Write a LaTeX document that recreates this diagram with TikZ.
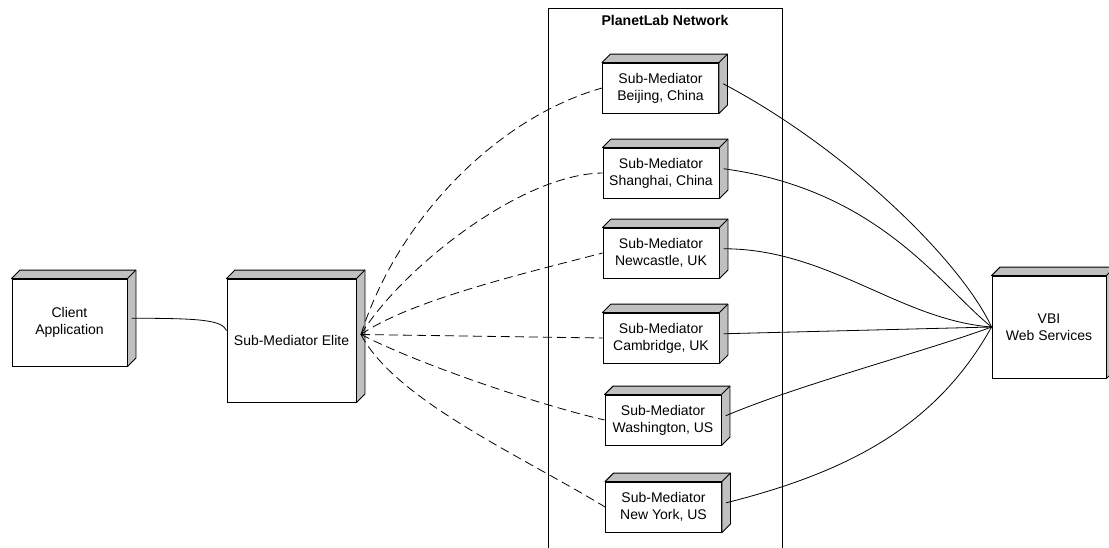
\documentclass[tikz,border=0pt]{standalone}
\usepackage{fontspec}
\setmainfont{Liberation Sans}
\usetikzlibrary{calc}
\definecolor{facegray}{RGB}{192,192,192}
\tikzset{
  box3d/.style={draw, fill=white, line width=0.9pt, align=center, inner sep=0pt,
    font=\fontsize{14}{17}\selectfont},
  subbox/.style={box3d, minimum width=116pt, minimum height=50pt},
  face/.style={draw, fill=facegray, line width=0.9pt, line join=round},
  conn/.style={line width=0.8pt},
  dconn/.style={line width=0.8pt, dash pattern=on 9pt off 5pt},
}
\newcommand{\boxfaces}[1]{%
  \draw[face] (#1.north west) -- ++(8.5,-8.5) -- ([shift={(8.5,-8.5)}]#1.north east)
     -- ([shift={(8.5,-8.5)}]#1.south east) -- (#1.south east) -- (#1.north east) -- cycle;
  \draw[line width=0.9pt] (#1.north east) -- ++(8.5,-8.5);}
\begin{document}
\begin{tikzpicture}[x=1pt, y=-1pt]
\useasboundingbox (0,0) rectangle (1109,547);
\clip (0,0) rectangle (1109,547);
% network frame
\node[draw, line width=0.9pt, minimum width=234pt, minimum height=560pt, inner sep=0pt, anchor=north west] (net) at (548,8) {};
\node[font=\bfseries\fontsize{14.1}{17}\selectfont] (title) at (665,20) {PlanetLab Network};
% nodes
\node[box3d, minimum width=115pt, minimum height=87pt] (client) at (69.5,322.5) {Client\\Application};
\node[box3d, minimum width=129pt, minimum height=123pt] (elite) at (291.5,340.5) {Sub-Mediator Elite};
\node[box3d, minimum width=114pt, minimum height=102pt] (vbi) at (1049,327) {VBI\\Web Services};
\node[subbox] (s1) at (660.5,88) {Sub-Mediator\\Beijing, China};
\node[subbox] (s2) at (661,173) {Sub-Mediator\\Shanghai, China};
\node[subbox] (s3) at (661,253) {Sub-Mediator\\Newcastle, UK};
\node[subbox] (s4) at (661,338) {Sub-Mediator\\Cambridge, UK};
\node[subbox] (s5) at (663,420) {Sub-Mediator\\Washington, US};
\node[subbox] (s6) at (663.5,507) {Sub-Mediator\\New York, US};
\foreach \n in {client,elite,vbi,s1,s2,s3,s4,s5,s6}{\boxfaces{\n}}
% attachment points
\coordinate (cR) at ([shift={(4.25,-4.25)}]client.east);
\coordinate (eL) at ([shift={(0,-10)}]elite.west);
\coordinate (eR) at ([shift={(4.5,-6)}]elite.east);
\foreach \n in {s1,s2,s3,s4,s5,s6}{\coordinate (\n R) at ([shift={(4.25,-4.25)}]\n.east);}
% client -> elite
\draw[conn] (cR) .. controls +(69,0) and +(-5,-10.5) .. (eL);
% elite -> sub-mediators (dashed)
\draw[dconn] (eR) .. controls +(36,-114) and +(-106,30) .. (s1.west);
\draw[dconn] (eR) .. controls +(39.5,-64.5) and +(-83,1) .. (s2.west);
\draw[dconn] (eR) .. controls +(49.5,-34.5) and +(-73,19) .. (s3.west);
\draw[dconn] (eR) -- (s4.west);
\draw[dconn] (eR) .. controls +(59.5,30.5) and +(-65,-15) .. (s5.west);
\draw[dconn] (eR) .. controls +(34.5,65.5) and +(-85.5,-52) .. (s6.west);
% sub-mediators -> VBI
\draw[conn] (s1R) .. controls +(125,66) and +(-30,-65) .. (vbi.west);
\draw[conn] (s2R) .. controls +(155,21) and +(-52,-42) .. (vbi.west);
\draw[conn] (s3R) .. controls +(105,0) and +(-92,-7) .. (vbi.west);
\draw[conn] (s4R) -- (vbi.west);
\draw[conn] (s5R) .. controls +(73,-31) and +(-62,23) .. (vbi.west);
\draw[conn] (s6R) .. controls +(132,-33) and +(-52,93) .. (vbi.west);
\end{tikzpicture}
\end{document}
